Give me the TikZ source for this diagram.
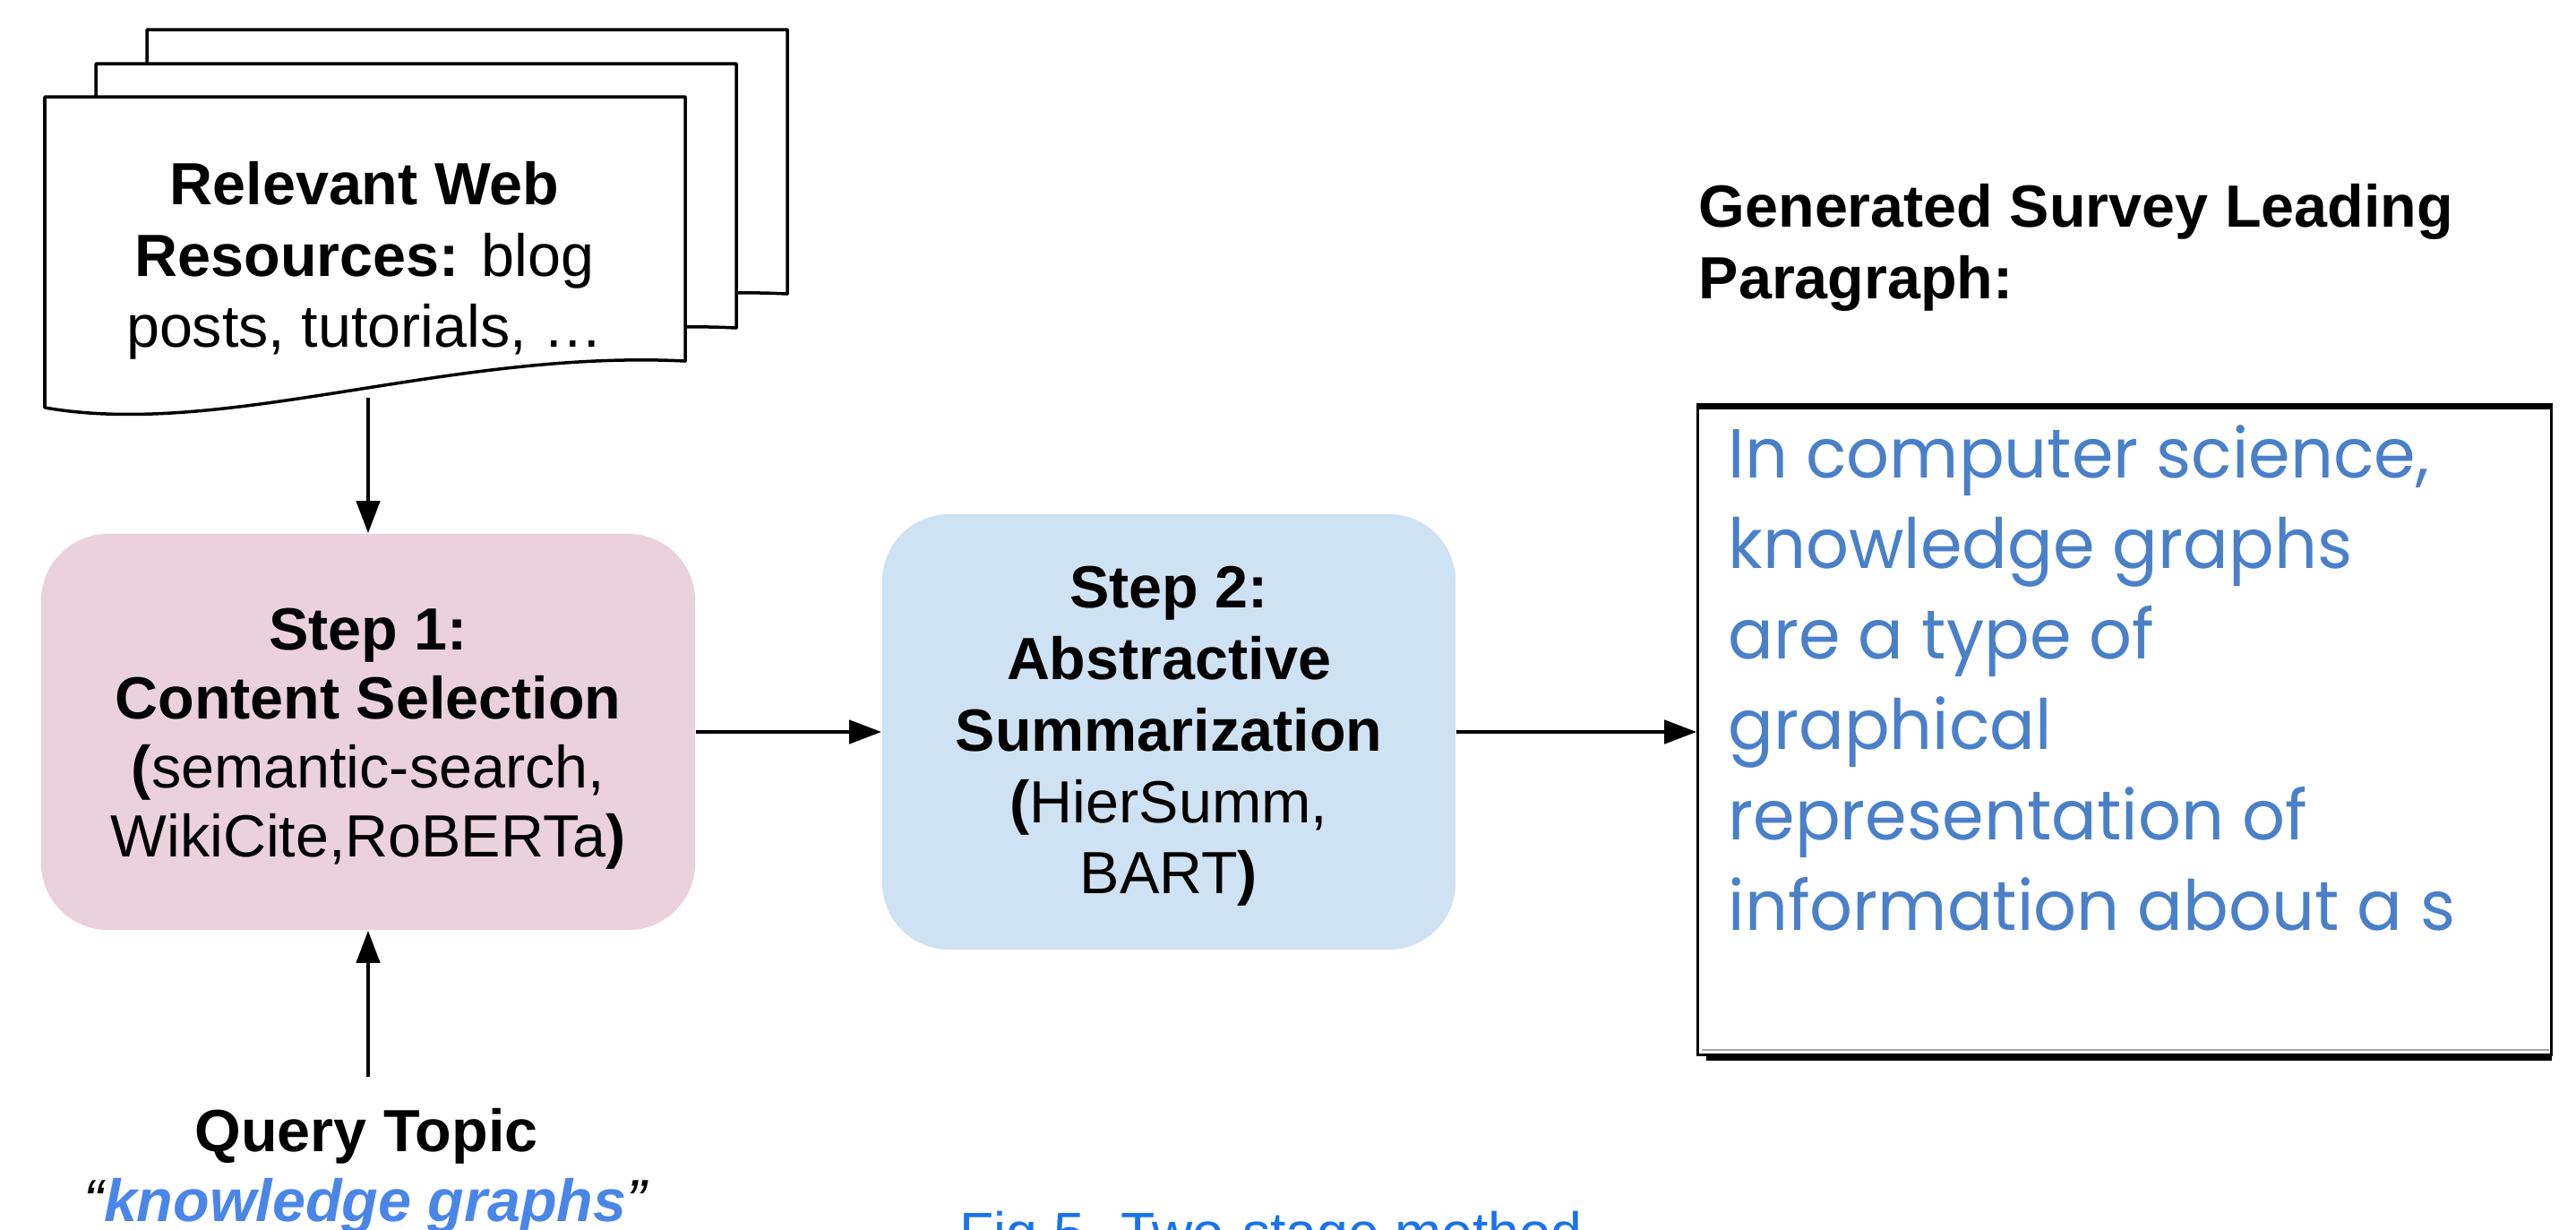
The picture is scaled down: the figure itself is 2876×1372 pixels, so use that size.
\documentclass[tikz,border=0pt]{standalone}
\usepackage{fontspec}
\setmainfont{Liberation Sans}
\newfontfamily\parafont{Poppins}[FakeStretch=0.97]
\usetikzlibrary{arrows.meta}
\definecolor{pinkfill}{HTML}{EAD1DC}
\definecolor{bluefill}{HTML}{CFE2F3}
\definecolor{kgblue}{HTML}{4A86E8}
\definecolor{figblue}{HTML}{1A73E8}
\definecolor{paratext}{HTML}{4A80C8}
\tikzset{
  lbl/.style={anchor=base, inner sep=0pt, font=\fontsize{18.9pt}{22pt}\selectfont},
  lbll/.style={lbl, anchor=base west},
  docpage/.style={draw=black, line width=0.035cm, fill=white, line join=round},
  stepbox/.style={rounded corners=0.75cm, inner sep=0pt, draw=none},
  conn/.style={line width=0.045cm, -{Triangle[length=0.36cm,width=0.26cm]}},
  paraline/.style={anchor=base west, inner sep=0pt, text=paratext, font=\parafont\fontsize{22pt}{26pt}\selectfont},
}
\begin{document}
\begin{tikzpicture}[x=0.01cm, y=-0.01cm]
\useasboundingbox (0,0) rectangle (2876,1372);
% stacked documents
\foreach \dx/\dy in {114/-75, 57/-37, 0/0} {
  \draw[docpage, shift={(\dx,\dy)}] (50,108) -- (765,108) -- (765,403)
     .. controls (500,390) and (250,490) .. (50,455) -- cycle;
}
\node[lbl] (d1) at (407,228) {\textbf{Relevant Web}};
\node[lbl] (d2) at (407,308) {\textbf{Resources:} blog};
\node[lbl] (d3) at (407,387) {posts, tutorials, …};

% step 1
\node[stepbox, fill=pinkfill, minimum width=7.30cm, minimum height=4.42cm] (s1) at (411,817) {};
\node[lbl] (s1a) at (411,725) {\textbf{Step 1:}};
\node[lbl] (s1b) at (411,802) {\textbf{Content Selection}};
\node[lbl] (s1c) at (411,879) {\textbf{(}semantic-search,};
\node[lbl] (s1d) at (411,956) {WikiCite,RoBERTa\textbf{)}};

% step 2
\node[stepbox, fill=bluefill, minimum width=6.40cm, minimum height=4.86cm] (s2) at (1305,817) {};
\node[lbl] (s2a) at (1305,678) {\textbf{Step 2:}};
\node[lbl] (s2b) at (1305,758) {\textbf{Abstractive}};
\node[lbl] (s2c) at (1305,838) {\textbf{Summarization}};
\node[lbl] (s2d) at (1305,918) {\textbf{(}HierSumm,};
\node[lbl] (s2e) at (1305,997) {BART\textbf{)}};

% generated paragraph
\node[lbll] (g1) at (1896,253) {\textbf{Generated Survey Leading}};
\node[lbll] (g2) at (1896,333) {\textbf{Paragraph:}};
\fill[black] (1905,1176) rectangle (2849,1184);
\node[draw, fill=white, line width=0.03cm, minimum width=9.52cm, minimum height=7.24cm, inner sep=0pt] (para) at (2372,815) {};
\draw[line width=0.07cm] ([yshift=-0.02cm]para.north west) -- ([yshift=-0.02cm]para.north east);
\draw[gray!70, line width=0.02cm] (1900,1172) -- (2846,1172);
\node[paraline] (p1) at (1929,533) {In computer science,};
\node[paraline] (p2) at (1929,634) {knowledge graphs};
\node[paraline] (p3) at (1929,735) {are a type of};
\node[paraline] (p4) at (1929,836) {graphical};
\node[paraline] (p5) at (1929,937) {representation of};
\node[paraline] (p6) at (1929,1038) {information about a s};

% query topic
\node[lbl] (q1) at (409,1285) {\textbf{Query Topic}};
\node[lbl] (q2) at (409,1363) {\textit{“\textbf{\textcolor{kgblue}{knowledge graphs}}”}};

% caption (clipped by page edge, as in the reference)
\node[lbll, text=figblue, font=\fontsize{17.8pt}{21pt}\selectfont] (fig) at (1071,1397) {Fig 5. Two-stage method};

% connectors
\coordinate (docbot) at (411,444);
\coordinate (qtop) at (411,1202);
\draw[conn] (docbot) -- (s1.north);
\draw[conn] (qtop) -- (s1.south);
\draw[conn] (s1.east) -- (s2.west);
\draw[conn] (s2.east) -- (s2.east -| para.west);
\end{tikzpicture}
\end{document}
